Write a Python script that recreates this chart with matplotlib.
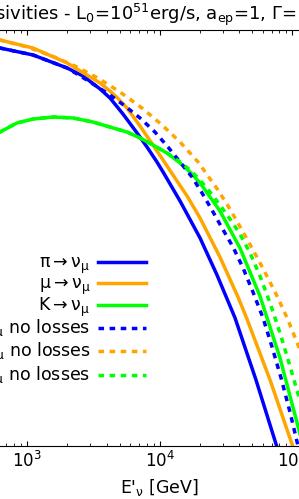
import matplotlib
matplotlib.use('Agg')
import matplotlib.pyplot as plt
import numpy as np

plt.rcParams['mathtext.default'] = 'regular'
plt.rcParams['font.family'] = ['DejaVu Sans']
plt.rcParams['font.size'] = 12

# ---- data (log10 of E'_nu [GeV] and log10 of emissivity, arbitrary units) ----
pi_logE = [2.500, 2.796, 3.045, 3.302, 3.422, 3.551, 3.626, 3.724, 3.830, 3.905,
           3.980, 4.026, 4.154, 4.305, 4.433, 4.569, 4.727, 4.885, 4.983]
pi_logY = [-0.096, -0.173, -0.240, -0.365, -0.442, -0.567, -0.654, -0.808, -0.990, -1.125,
           -1.269, -1.365, -1.644, -2.000, -2.356, -2.769, -3.365, -4.010, -4.423]

mu_logE = [2.500, 2.796, 3.045, 3.302, 3.551, 3.626, 3.679, 3.754, 3.852, 3.950,
           4.026, 4.101, 4.207, 4.305, 4.455, 4.591, 4.659, 4.833, 5.006, 5.097]
mu_logY = [-0.010, -0.096, -0.173, -0.317, -0.510, -0.587, -0.649, -0.750, -0.923, -1.106,
           -1.250, -1.394, -1.596, -1.808, -2.183, -2.567, -2.779, -3.365, -4.010, -4.356]

K_logE = [2.500, 2.683, 2.796, 2.925, 3.045, 3.196, 3.347, 3.498, 3.649, 3.754,
          3.852, 3.950, 4.056, 4.154, 4.229, 4.305, 4.455, 4.606, 4.757, 4.908,
          5.051, 5.134]
K_logY = [-1.269, -1.077, -0.981, -0.894, -0.856, -0.837, -0.846, -0.885, -0.942, -0.981,
          -1.038, -1.106, -1.183, -1.279, -1.365, -1.471, -1.740, -2.096, -2.558, -3.154,
          -3.846, -4.269]

pi_nl_logE = [2.500, 2.796, 3.045, 3.302, 3.452, 3.626, 3.739, 3.852, 3.965, 4.063,
              4.154, 4.244, 4.320, 4.395, 4.471, 4.554, 4.629, 4.704, 4.780, 4.848,
              4.916, 4.983, 5.044, 5.097]
pi_nl_logY = [-0.096, -0.173, -0.240, -0.365, -0.481, -0.625, -0.731, -0.846, -0.981, -1.125,
              -1.269, -1.413, -1.567, -1.731, -1.904, -2.087, -2.288, -2.519, -2.769, -3.048,
              -3.346, -3.673, -4.000, -4.279]

mu_nl_logE = [2.500, 2.683, 2.796, 3.000, 3.189, 3.362, 3.535, 3.701, 3.867, 4.018,
              4.154, 4.290, 4.365, 4.440, 4.516, 4.591, 4.667, 4.742, 4.817, 4.893,
              4.968, 5.044, 5.134]
mu_nl_logY = [-0.010, -0.067, -0.096, -0.163, -0.250, -0.346, -0.462, -0.596, -0.750, -0.913,
              -1.077, -1.269, -1.404, -1.538, -1.692, -1.856, -2.029, -2.202, -2.385, -2.577,
              -2.788, -3.029, -3.346]

K_nl_logE = [2.500, 2.683, 2.796, 2.925, 3.045, 3.196, 3.347, 3.498, 3.649, 3.754,
             3.852, 3.950, 4.056, 4.154, 4.229, 4.305, 4.380, 4.455, 4.531, 4.606,
             4.682, 4.757, 4.833, 4.908, 4.983, 5.059, 5.134]
K_nl_logY = [-1.269, -1.077, -0.981, -0.894, -0.856, -0.837, -0.846, -0.885, -0.942, -0.981,
             -1.038, -1.106, -1.183, -1.269, -1.346, -1.442, -1.558, -1.683, -1.817, -1.962,
             -2.144, -2.365, -2.625, -2.913, -3.231, -3.567, -3.923]

labels = [r'$\pi \rightarrow \nu_\mu$', r'$\mu \rightarrow \nu_\mu$', r'$K \rightarrow \nu_\mu$',
          r'$\pi \rightarrow \nu_\mu$ no losses', r'$\mu \rightarrow \nu_\mu$ no losses',
          r'$K \rightarrow \nu_\mu$ no losses']
title = r'Emissivities - L$_0$=10$^{51}$erg/s, a$_{ep}$=1, $\Gamma$='
xlabel = r"E$'_\nu$ [GeV]"

# ---- figure ----
W, H = 299, 499
fig = plt.figure(figsize=(W / 100, H / 100), dpi=100)
ax = fig.add_axes([-39.3 / W, 53 / H, 397.8 / W, 416 / H])

series = [(pi_logE, pi_logY, 'blue', '-'), (mu_logE, mu_logY, 'orange', '-'),
          (K_logE, K_logY, 'lime', '-'),
          (pi_nl_logE, pi_nl_logY, 'blue', '--'), (mu_nl_logE, mu_nl_logY, 'orange', '--'),
          (K_nl_logE, K_nl_logY, 'lime', '--')]
for (lx, ly, c, ls), lab in zip(series, labels):
    kw = dict(dashes=(1.6, 1.6)) if ls == '--' else {}
    ax.plot(10 ** np.array(lx), 10 ** np.array(ly), color=c, lw=2.5, ls=ls, label=lab,
            solid_joinstyle='round', **kw)

ax.set_xscale('log')
ax.set_yscale('log')
ax.set_xlim(10 ** 2.5, 10 ** 5.5)
ax.set_ylim(1e-4, 1)
ax.spines['right'].set_visible(False)
ax.spines['left'].set_visible(False)
ax.tick_params(which='both', direction='in', top=True, right=False, left=False,
               labelleft=False, labelsize=12)
ax.set_xlabel(xlabel, fontsize=12.5)

fig.text(297 / W, (H - 19.5) / H, title, ha='right', va='baseline', fontsize=13)

ax.legend(loc='upper right', bbox_to_anchor=(146 / W, (H - 254) / H),
          bbox_transform=fig.transFigure, frameon=False, markerfirst=False,
          handlelength=2.75, handletextpad=0.46, labelspacing=-0.06, borderpad=0,
          borderaxespad=0, fontsize=12.5)

fig.savefig('out.png', dpi=100)
